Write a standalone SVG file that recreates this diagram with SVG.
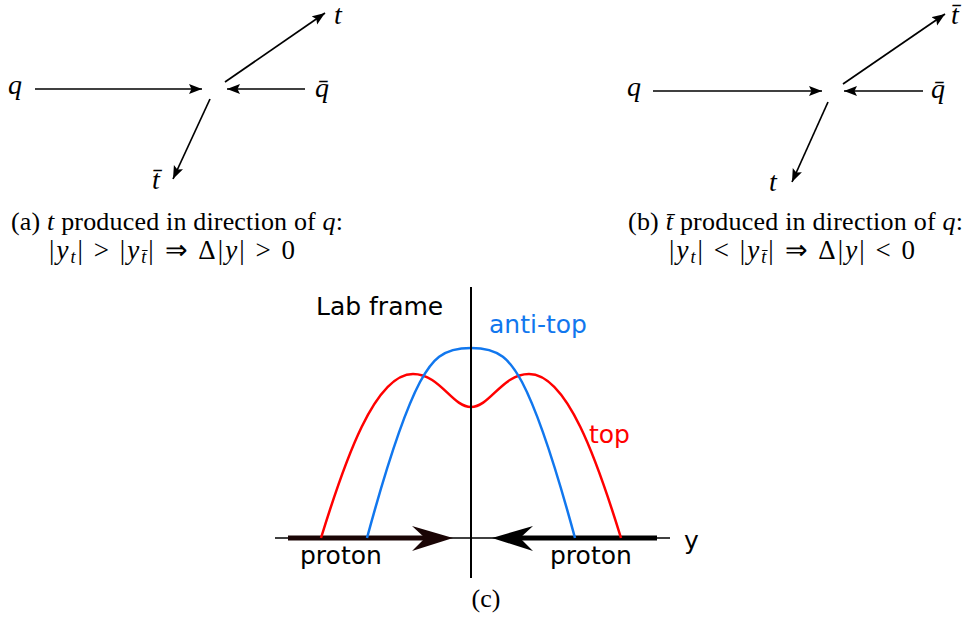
<svg xmlns="http://www.w3.org/2000/svg" width="966" height="618" viewBox="0 0 966 618">
<defs>
<marker id="ah" markerUnits="userSpaceOnUse" markerWidth="14" markerHeight="12" viewBox="0 0 14 12" refX="13" refY="5" orient="auto">
<path d="M0,0 L13,5 L0,10 L2.5,5 Z" fill="#000"/>
</marker>
</defs>
<style>
.ar{stroke:#000;stroke-width:1.7;fill:none;marker-end:url(#ah)}
.m{font-family:"Liberation Serif","Times New Roman",serif;font-style:italic;font-size:28px;fill:#000}
.cap{font-family:"Liberation Serif","Times New Roman",serif;font-size:26px;fill:#000}
.eq{font-family:"Liberation Serif","Times New Roman",serif;font-size:27px;fill:#000}
.i{font-style:italic}
.s{font-size:18px}
.sans{font-family:"DejaVu Sans","Bitstream Vera Sans",sans-serif;font-size:25px}
</style>
<rect width="966" height="618" fill="#fff"/>
<g id="connectors">
<line class="ar" x1="35" y1="89" x2="202" y2="89"/>
<line class="ar" x1="305" y1="89" x2="227" y2="89"/>
<line class="ar" x1="225" y1="82" x2="325" y2="13"/>
<line class="ar" x1="210" y1="99" x2="173" y2="179"/>
<line class="ar" x1="653" y1="91" x2="822" y2="91"/>
<line class="ar" x1="923" y1="91" x2="844" y2="91"/>
<line class="ar" x1="843" y1="84" x2="945" y2="14"/>
<line class="ar" x1="828" y1="102" x2="792" y2="182"/>
</g>
<g id="panel-a">
<text class="m" x="8" y="94">q</text>
<text class="m" x="315" y="97">q̄</text>
<text class="m" x="334" y="24">t</text>
<text class="m" x="152" y="189">t̄</text>
<text class="cap" x="11" y="230" textLength="332" lengthAdjust="spacing">(a) <tspan class="i">t</tspan> produced in direction of <tspan class="i">q</tspan>:</text>
<text class="eq" x="49" y="259" textLength="246" lengthAdjust="spacing">|<tspan class="i">y</tspan><tspan class="i s" dy="4">t</tspan><tspan dy="-4">| &gt; |</tspan><tspan class="i">y</tspan><tspan class="i s" dy="4">t̄</tspan><tspan dy="-4">| ⇒ Δ|</tspan><tspan class="i">y</tspan>| &gt; 0</text>
</g>
<g id="panel-b">
<text class="m" x="627" y="96">q</text>
<text class="m" x="931" y="98">q̄</text>
<text class="m" x="951" y="24">t̄</text>
<text class="m" x="769" y="191">t</text>
<text class="cap" x="628" y="230" textLength="335" lengthAdjust="spacing">(b) <tspan class="i">t̄</tspan> produced in direction of <tspan class="i">q</tspan>:</text>
<text class="eq" x="669" y="259" textLength="246" lengthAdjust="spacing">|<tspan class="i">y</tspan><tspan class="i s" dy="4">t</tspan><tspan dy="-4">| &lt; |</tspan><tspan class="i">y</tspan><tspan class="i s" dy="4">t̄</tspan><tspan dy="-4">| ⇒ Δ|</tspan><tspan class="i">y</tspan>| &lt; 0</text>
</g>
<g id="panel-c">
<line x1="275" y1="538" x2="670" y2="538" stroke="#000" stroke-width="1.6"/>
<line x1="288" y1="538" x2="428" y2="538" stroke="#1a0505" stroke-width="5"/>
<path d="M453,538 L412,526 L425,538 L412,551 Z" fill="#1a0505"/>
<line x1="518" y1="538" x2="657" y2="538" stroke="#000" stroke-width="5"/>
<path d="M492,538 L533,526 L520,538 L533,551 Z" fill="#000"/>
<path d="M321,538 C345,460 375,374 413,374 C440,374 452,407 471,407 C490,407 502,374 529,374 C567,374 597,460 621,538" fill="none" stroke="#ff0000" stroke-width="2.5"/>
<path d="M367,538 C380,490 400,420 420,382 C432,360 442,348 471,348 C500,348 510,360 522,382 C542,420 562,490 575,538" fill="none" stroke="#1177ee" stroke-width="2.5"/>
<line x1="471" y1="287" x2="471" y2="578" stroke="#000" stroke-width="2"/>
<text class="sans" x="316" y="315" fill="#000">Lab frame</text>
<text class="sans" x="489" y="333" fill="#1177ee">anti-top</text>
<text class="sans" x="589" y="443" fill="#ff0000">top</text>
<text class="sans" x="684" y="549" fill="#000">y</text>
<text class="sans" x="300" y="564" fill="#000">proton</text>
<text class="sans" x="550" y="564" fill="#000">proton</text>
<text class="cap" x="486" y="607" text-anchor="middle">(c)</text>
</g>
</svg>
